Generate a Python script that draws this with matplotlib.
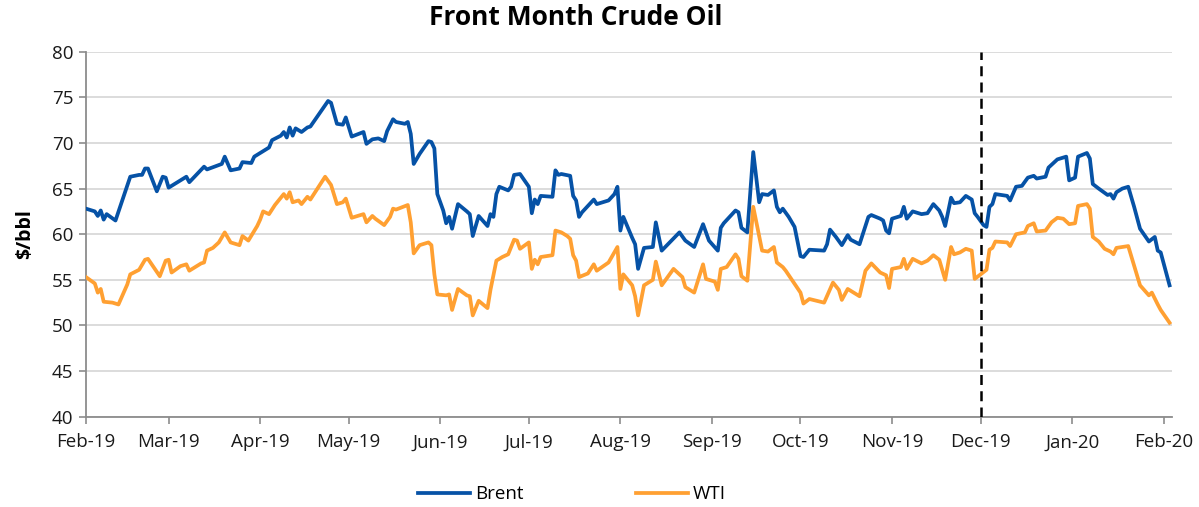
import matplotlib
matplotlib.use("Agg")
import matplotlib.pyplot as plt
import matplotlib.dates as mdates
import pandas as pd

# ---------------- data ----------------
brent_dates = [
    "2019-02-01", "2019-02-04", "2019-02-05", "2019-02-06", "2019-02-07", "2019-02-08", "2019-02-11",
    "2019-02-14", "2019-02-16", "2019-02-19", "2019-02-20", "2019-02-21", "2019-02-22", "2019-02-25",
    "2019-02-27", "2019-02-28", "2019-03-01", "2019-03-07", "2019-03-08", "2019-03-13", "2019-03-14",
    "2019-03-19", "2019-03-20", "2019-03-22", "2019-03-25", "2019-03-26", "2019-03-29", "2019-03-30",
    "2019-04-02", "2019-04-04", "2019-04-05", "2019-04-08", "2019-04-09", "2019-04-10", "2019-04-11",
    "2019-04-12", "2019-04-13", "2019-04-15", "2019-04-17", "2019-04-18", "2019-04-24", "2019-04-25",
    "2019-04-27", "2019-04-29", "2019-04-30", "2019-05-02", "2019-05-06", "2019-05-07", "2019-05-09",
    "2019-05-11", "2019-05-13", "2019-05-14", "2019-05-16", "2019-05-17", "2019-05-20", "2019-05-21",
    "2019-05-22", "2019-05-23", "2019-05-25", "2019-05-28", "2019-05-29", "2019-05-30", "2019-05-31",
    "2019-06-02", "2019-06-03", "2019-06-04", "2019-06-05", "2019-06-07", "2019-06-10", "2019-06-11",
    "2019-06-12", "2019-06-14", "2019-06-17", "2019-06-18", "2019-06-19", "2019-06-20", "2019-06-21",
    "2019-06-24", "2019-06-25", "2019-06-26", "2019-06-28", "2019-07-01", "2019-07-02", "2019-07-03",
    "2019-07-04", "2019-07-05", "2019-07-09", "2019-07-10", "2019-07-11", "2019-07-12", "2019-07-15",
    "2019-07-16", "2019-07-17", "2019-07-18", "2019-07-19", "2019-07-23", "2019-07-24", "2019-07-28",
    "2019-07-30", "2019-07-31", "2019-08-01", "2019-08-02", "2019-08-05", "2019-08-06", "2019-08-07",
    "2019-08-09", "2019-08-12", "2019-08-13", "2019-08-15", "2019-08-21", "2019-08-23", "2019-08-26",
    "2019-08-29", "2019-08-31", "2019-09-03", "2019-09-04", "2019-09-05", "2019-09-09", "2019-09-10",
    "2019-09-11", "2019-09-13", "2019-09-15", "2019-09-17", "2019-09-18", "2019-09-20", "2019-09-22",
    "2019-09-23", "2019-09-24", "2019-09-25", "2019-09-27", "2019-09-29", "2019-10-01", "2019-10-02",
    "2019-10-04", "2019-10-09", "2019-10-10", "2019-10-11", "2019-10-13", "2019-10-15", "2019-10-17",
    "2019-10-18", "2019-10-21", "2019-10-24", "2019-10-25", "2019-10-28", "2019-10-29", "2019-10-30",
    "2019-10-31", "2019-11-01", "2019-11-04", "2019-11-05", "2019-11-06", "2019-11-08", "2019-11-11",
    "2019-11-13", "2019-11-15", "2019-11-17", "2019-11-18", "2019-11-19", "2019-11-21", "2019-11-22",
    "2019-11-24", "2019-11-26", "2019-11-28", "2019-11-29", "2019-11-30", "2019-12-02", "2019-12-03",
    "2019-12-04", "2019-12-05", "2019-12-06", "2019-12-10", "2019-12-11", "2019-12-13", "2019-12-15",
    "2019-12-17", "2019-12-19", "2019-12-20", "2019-12-23", "2019-12-24", "2019-12-27", "2019-12-30",
    "2019-12-31", "2020-01-02", "2020-01-03", "2020-01-06", "2020-01-07", "2020-01-08", "2020-01-10",
    "2020-01-13", "2020-01-14", "2020-01-15", "2020-01-16", "2020-01-18", "2020-01-20", "2020-01-22",
    "2020-01-24", "2020-01-27", "2020-01-29", "2020-01-30", "2020-01-31", "2020-02-03",
]
brent_values = [
    62.8, 62.5, 62.0, 62.6, 61.6, 62.2, 61.5,
    64.4, 66.3, 66.5, 66.5, 67.2, 67.2, 64.7,
    66.3, 66.2, 65.1, 66.3, 65.7, 67.4, 67.1,
    67.7, 68.5, 67.0, 67.2, 67.9, 67.8, 68.5,
    69.1, 69.5, 70.3, 70.8, 71.2, 70.6, 71.7,
    70.8, 71.6, 71.2, 71.7, 71.8, 74.6, 74.4,
    72.1, 72.0, 72.8, 70.7, 71.2, 69.9, 70.4,
    70.5, 70.2, 71.3, 72.6, 72.3, 72.1, 72.3,
    71.0, 67.7, 68.8, 70.2, 70.1, 69.4, 64.4,
    62.6, 61.2, 61.9, 60.6, 63.3, 62.5, 62.2,
    59.8, 62.0, 60.9, 62.2, 61.9, 64.4, 65.2,
    64.8, 65.2, 66.5, 66.6, 65.2, 62.3, 63.8,
    63.3, 64.2, 64.1, 67.0, 66.5, 66.6, 66.4,
    64.2, 63.7, 61.9, 62.4, 63.8, 63.3, 63.7,
    64.4, 65.2, 60.4, 61.9, 59.6, 58.9, 56.2,
    58.5, 58.6, 61.3, 58.2, 60.2, 59.3, 58.6,
    61.1, 59.3, 58.2, 60.7, 61.2, 62.6, 62.4,
    60.7, 60.2, 69.0, 63.5, 64.4, 64.3, 64.8,
    63.0, 62.4, 62.8, 61.9, 60.8, 57.6, 57.5,
    58.3, 58.2, 58.9, 60.5, 59.7, 58.8, 59.9,
    59.4, 58.9, 61.9, 62.1, 61.7, 61.5, 60.4,
    60.1, 61.7, 62.0, 63.0, 61.7, 62.5, 62.2,
    62.3, 63.3, 62.6, 61.9, 60.9, 64.0, 63.4,
    63.5, 64.2, 63.8, 62.3, 61.9, 61.0, 60.8,
    63.0, 63.3, 64.4, 64.2, 63.7, 65.2, 65.3,
    66.2, 66.4, 66.1, 66.3, 67.3, 68.2, 68.5,
    65.9, 66.2, 68.5, 68.9, 68.3, 65.5, 65.0,
    64.3, 64.4, 63.9, 64.6, 65.0, 65.2, 63.0,
    60.6, 59.2, 59.7, 58.2, 58.0, 54.4,
]

wti_dates = [
    "2019-02-01", "2019-02-04", "2019-02-05", "2019-02-06", "2019-02-07", "2019-02-10", "2019-02-12",
    "2019-02-15", "2019-02-16", "2019-02-19", "2019-02-21", "2019-02-22", "2019-02-26", "2019-02-28",
    "2019-03-01", "2019-03-02", "2019-03-05", "2019-03-07", "2019-03-08", "2019-03-12", "2019-03-13",
    "2019-03-14", "2019-03-16", "2019-03-18", "2019-03-20", "2019-03-22", "2019-03-25", "2019-03-26",
    "2019-03-28", "2019-03-31", "2019-04-01", "2019-04-02", "2019-04-04", "2019-04-06", "2019-04-09",
    "2019-04-10", "2019-04-11", "2019-04-12", "2019-04-14", "2019-04-15", "2019-04-17", "2019-04-18",
    "2019-04-23", "2019-04-25", "2019-04-27", "2019-04-29", "2019-04-30", "2019-05-02", "2019-05-06",
    "2019-05-07", "2019-05-09", "2019-05-10", "2019-05-13", "2019-05-15", "2019-05-16", "2019-05-17",
    "2019-05-21", "2019-05-22", "2019-05-23", "2019-05-25", "2019-05-28", "2019-05-29", "2019-05-30",
    "2019-05-31", "2019-06-03", "2019-06-04", "2019-06-05", "2019-06-07", "2019-06-10", "2019-06-11",
    "2019-06-12", "2019-06-14", "2019-06-17", "2019-06-18", "2019-06-20", "2019-06-22", "2019-06-24",
    "2019-06-26", "2019-06-27", "2019-06-28", "2019-07-01", "2019-07-02", "2019-07-03", "2019-07-04",
    "2019-07-05", "2019-07-09", "2019-07-10", "2019-07-12", "2019-07-14", "2019-07-15", "2019-07-16",
    "2019-07-17", "2019-07-18", "2019-07-21", "2019-07-23", "2019-07-24", "2019-07-28", "2019-07-31",
    "2019-08-01", "2019-08-02", "2019-08-05", "2019-08-06", "2019-08-07", "2019-08-09", "2019-08-12",
    "2019-08-13", "2019-08-15", "2019-08-19", "2019-08-22", "2019-08-23", "2019-08-26", "2019-08-29",
    "2019-08-30", "2019-09-02", "2019-09-03", "2019-09-04", "2019-09-06", "2019-09-09", "2019-09-10",
    "2019-09-11", "2019-09-13", "2019-09-15", "2019-09-18", "2019-09-20", "2019-09-22", "2019-09-23",
    "2019-09-25", "2019-09-26", "2019-10-01", "2019-10-02", "2019-10-04", "2019-10-09", "2019-10-12",
    "2019-10-14", "2019-10-15", "2019-10-17", "2019-10-21", "2019-10-23", "2019-10-25", "2019-10-28",
    "2019-10-30", "2019-10-31", "2019-11-01", "2019-11-04", "2019-11-05", "2019-11-06", "2019-11-08",
    "2019-11-11", "2019-11-13", "2019-11-15", "2019-11-17", "2019-11-19", "2019-11-21", "2019-11-22",
    "2019-11-24", "2019-11-26", "2019-11-28", "2019-11-29", "2019-12-03", "2019-12-04", "2019-12-05",
    "2019-12-06", "2019-12-10", "2019-12-11", "2019-12-13", "2019-12-16", "2019-12-17", "2019-12-19",
    "2019-12-20", "2019-12-23", "2019-12-25", "2019-12-27", "2019-12-29", "2019-12-31", "2020-01-02",
    "2020-01-03", "2020-01-06", "2020-01-07", "2020-01-08", "2020-01-10", "2020-01-12", "2020-01-14",
    "2020-01-15", "2020-01-16", "2020-01-20", "2020-01-24", "2020-01-27", "2020-01-28", "2020-01-30",
    "2020-01-31", "2020-02-03",
]
wti_values = [
    55.3, 54.6, 53.6, 54.0, 52.6, 52.5, 52.3,
    54.5, 55.6, 56.1, 57.2, 57.3, 55.4, 57.1,
    57.2, 55.8, 56.5, 56.7, 56.0, 56.8, 56.9,
    58.2, 58.5, 59.1, 60.2, 59.1, 58.8, 59.8,
    59.3, 60.9, 61.6, 62.5, 62.2, 63.2, 64.4,
    63.9, 64.6, 63.5, 63.7, 63.3, 64.1, 63.8,
    66.3, 65.4, 63.3, 63.5, 63.9, 61.8, 62.2,
    61.3, 62.0, 61.7, 61.0, 61.9, 62.8, 62.7,
    63.2, 61.3, 57.9, 58.8, 59.1, 58.8, 55.6,
    53.4, 53.3, 53.4, 51.7, 54.0, 53.3, 53.2,
    51.1, 52.7, 51.9, 53.9, 57.1, 57.5, 57.8,
    59.4, 59.3, 58.4, 59.1, 56.2, 57.2, 56.7,
    57.5, 57.7, 60.4, 60.2, 59.8, 59.5, 57.7,
    57.1, 55.3, 55.7, 56.7, 56.0, 56.9, 58.6,
    54.0, 55.6, 54.4, 53.2, 51.1, 54.4, 55.0,
    57.0, 54.4, 56.2, 55.3, 54.2, 53.6, 56.7,
    55.1, 54.8, 53.9, 56.2, 56.4, 57.8, 57.3,
    55.4, 54.9, 63.0, 58.2, 58.1, 58.6, 56.9,
    56.4, 56.0, 53.6, 52.4, 52.9, 52.5, 54.7,
    53.9, 52.8, 54.0, 53.2, 56.0, 56.8, 55.8,
    55.5, 54.1, 56.2, 56.4, 57.3, 56.2, 57.3,
    56.8, 57.1, 57.7, 57.2, 55.0, 58.6, 57.8,
    58.0, 58.4, 58.2, 55.1, 56.1, 58.3, 58.5,
    59.2, 59.1, 58.7, 60.0, 60.2, 60.9, 61.2,
    60.3, 60.4, 61.3, 61.8, 61.7, 61.1, 61.2,
    63.1, 63.3, 62.8, 59.7, 59.2, 58.4, 58.1,
    57.8, 58.5, 58.7, 54.4, 53.3, 53.6, 52.3,
    51.7, 50.3,
]

series_names = ["Brent", "WTI"]
marker_date = "2019-12-01"
title = "Front Month Crude Oil"
y_label = "$/bbl"

# ---------------- style ----------------
plt.rcParams["font.family"] = ["Open Sans", "DejaVu Sans"]
brent_color = "#0652a6"
wti_color = "#ffa032"
axis_color = "#8c8c8c"
grid_color = "#d9d9d9"

fig = plt.figure(figsize=(11.99, 5.07), dpi=100)
ax = fig.add_axes([0.0717, 0.1781, 0.9058, 0.7199])

bd = pd.to_datetime(brent_dates)
wd = pd.to_datetime(wti_dates)
ax.plot(bd, brent_values, color=brent_color, lw=2.7, label=series_names[0],
        solid_joinstyle="round", zorder=3)
ax.plot(wd, wti_values, color=wti_color, lw=2.7, label=series_names[1],
        solid_joinstyle="round", zorder=3)

ax.axvline(pd.Timestamp(marker_date), color="black", lw=1.8, ls=(0, (4, 2.5)), zorder=4)

ax.set_ylim(40, 80)
ax.set_yticks(range(40, 81, 5))
ax.set_xlim(pd.Timestamp("2019-02-01"), pd.Timestamp("2020-02-03 20:00"))
ax.xaxis.set_major_locator(mdates.MonthLocator())
ax.xaxis.set_major_formatter(mdates.DateFormatter("%b-%y"))

ax.grid(axis="y", color=grid_color, lw=1.3, zorder=0)
ax.set_axisbelow(True)
for s in ["top", "right"]:
    ax.spines[s].set_visible(False)
for s in ["left", "bottom"]:
    ax.spines[s].set_color(axis_color)
    ax.spines[s].set_linewidth(1.3)
ax.tick_params(axis="both", direction="out", length=5, width=1.2, color=axis_color,
               labelsize=13.5, labelcolor="#1a1a1a")
ax.tick_params(axis="x", pad=7)
ax.tick_params(axis="y", pad=4)

fig.text(0.4805, 0.9645, title, ha="center", va="center", fontsize=19, fontweight="bold")
fig.text(0.021, 0.538, y_label, ha="center", va="center", rotation=90, fontsize=14,
         fontweight="bold")

fig.legend(loc="center", bbox_to_anchor=(0.477, 0.025), ncol=2, frameon=False,
           fontsize=13.5, handlelength=2.8, handletextpad=0.25, columnspacing=6.0)

fig.savefig("out.png", dpi=100)
